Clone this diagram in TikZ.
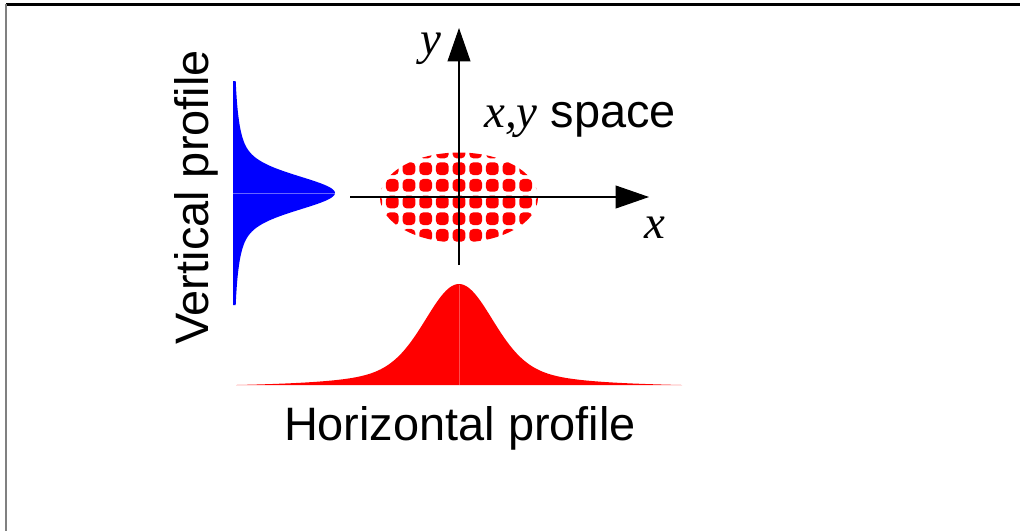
\documentclass[tikz,border=0pt]{standalone}
\usepackage{fontspec}
\setmainfont{Liberation Sans}
\newfontfamily\tmsfont{Liberation Serif}
\usetikzlibrary{arrows.meta}
\tikzset{
  every picture/.style={
    line join=round,
  },
  axis line/.style={black, line width=0.6pt, -{Triangle[length=0.67cm,width=0.46cm]}},
  spot dot/.style={red, rounded corners=2.4pt},
  label text/.style={inner sep=0pt, font=\fontsize{26.7pt}{32pt}\selectfont},
  math text/.style={inner sep=0pt, font=\fontsize{26.7pt}{32pt}\selectfont\tmsfont\itshape},
}

\begin{document}
\begin{tikzpicture}[x=0.02cm,y=-0.02cm]
\useasboundingbox (0,0) rectangle (1020,531);
% frame, only the top and left edges show
\draw[black, line width=1.2pt] (6,4.5) -- (1020,4.5);
\draw[gray, line width=1.4pt] (6,4) -- (6,531);
% the spot, a grid of dots cut to an ellipse
\begin{scope}
\clip (459,197.5) ellipse [x radius=1.58cm, y radius=0.9cm];
\foreach \i in {-5,...,5}
  \foreach \j in {-3,...,3}
    \fill[spot dot] ({452.6+16.67*\i},{195.6+16.67*\j}) rectangle +(12.8,12.8);
\end{scope}
% axes
\coordinate (xs) at (350,197);
\coordinate (xe) at (649,197);
\coordinate (ys) at (459,265);
\coordinate (ye) at (459,28);
\draw[axis line] (xs) -- (xe);
\draw[axis line] (ys) -- (ye);
% profiles: narrow gaussian on a wide lorentzian
\fill[blue] (233,81) -- plot[domain=-112:112, samples=181, variable=\t]
  ({233+102*(0.55*exp(-0.5*(\t/16)^2)+0.45/(1+(\t/28)^2))}, {193+\t}) -- (233,305) -- cycle;
\draw[blue!60!white, line width=0.4pt] (233,193) -- (335,193);
\fill[red] (236,385) -- plot[domain=-223:223, samples=241, variable=\t]
  ({459+\t}, {385-101*((0.58*exp(-0.5*(\t/33)^2)+0.42/(1+(\t/56)^2)-0.025)/0.975)}) -- cycle;
\draw[red!70!white, line width=0.4pt] (459,285) -- (459,385);
% labels
\node[label text, anchor=base] (hlab) at (460,440) {Horizontal profile};
\node[label text, anchor=base, rotate=90] (vlab) at (208,197.5) {Vertical profile};
\node[label text, anchor=base west] (spacelab) at (484,127) {{\tmsfont\itshape x,y} space};
\node[math text, anchor=base] (ylab) at (431,54) {y};
\node[math text, anchor=base] (xlab) at (655,238) {x};
\end{tikzpicture}
\end{document}
